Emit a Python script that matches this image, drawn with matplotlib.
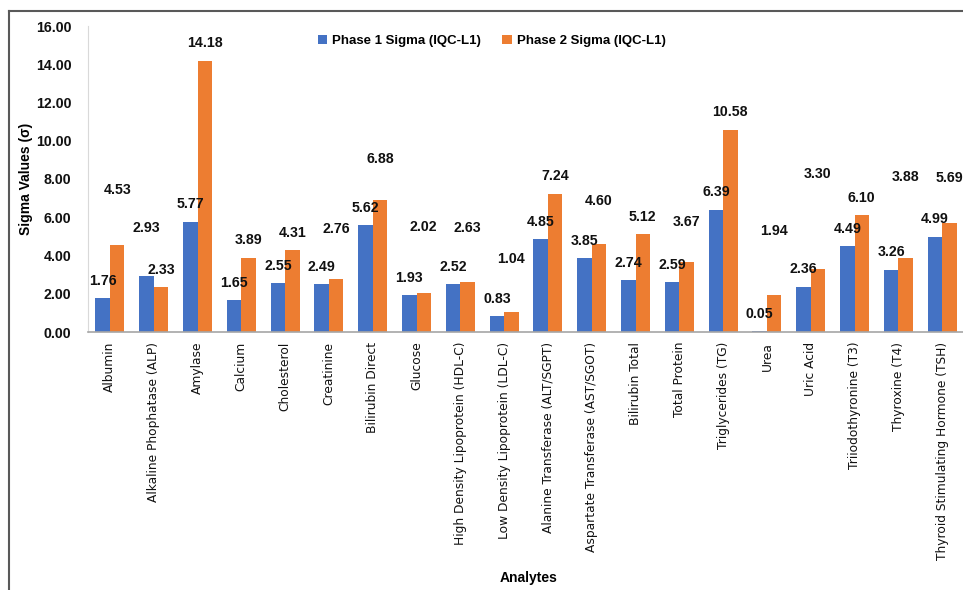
import matplotlib

matplotlib.use("Agg")
import matplotlib.pyplot as plt
import numpy as np
from matplotlib.lines import Line2D

ANALYTES = [
    "Albumin",
    "Alkaline Phophatase (ALP)",
    "Amylase",
    "Calcium",
    "Cholesterol",
    "Creatinine",
    "Bilirubin Direct",
    "Glucose",
    "High Density Lipoprotein (HDL-C)",
    "Low Density Lipoprotein (LDL-C)",
    "Alanine Transferase (ALT/SGPT)",
    "Aspartate Transferase (AST/SGOT)",
    "Bilirubin Total",
    "Total Protein",
    "Triglycerides (TG)",
    "Urea",
    "Uric Acid",
    "Triiodothyronine (T3)",
    "Thyroxine (T4)",
    "Thyroid Stimulating Hormone (TSH)",
]
PHASE1 = [1.76, 2.93, 5.77, 1.65, 2.55, 2.49, 5.62, 1.93, 2.52, 0.83,
          4.85, 3.85, 2.74, 2.59, 6.39, 0.05, 2.36, 4.49, 3.26, 4.99]
PHASE2 = [4.53, 2.33, 14.18, 3.89, 4.31, 2.76, 6.88, 2.02, 2.63, 1.04,
          7.24, 4.60, 5.12, 3.67, 10.58, 1.94, 3.30, 6.10, 3.88, 5.69]
Y_TICKS = [0, 2, 4, 6, 8, 10, 12, 14, 16]

# where the data labels sit in the original (data units), layout only
LABEL_Y1 = [2.67, 5.45, 6.7, 2.55, 3.45, 3.4, 6.5, 2.8, 3.4, 1.73,
            5.77, 4.78, 3.63, 3.5, 7.3, 0.94, 3.3, 5.4, 4.2, 5.9]
LABEL_Y2 = [7.4, 3.25, 15.1, 4.8, 5.2, 5.4, 9.05, 5.5, 5.45, 3.8,
            8.17, 6.87, 6.03, 5.75, 11.5, 5.3, 8.27, 7.0, 8.1, 8.05]

BLUE = "#4472C4"
ORANGE = "#ED7D31"
LABEL_FONT = "Liberation Sans"

fig = plt.figure(figsize=(9.63, 5.9), dpi=100)
ax = fig.add_axes([88 / 963, 1 - 332 / 590, 876 / 963, 306 / 590])

x = np.arange(len(ANALYTES))
w = 0.33
ax.bar(x - w / 2, PHASE1, width=w, color=BLUE, label="Phase 1 Sigma (IQC-L1)")
ax.bar(x + w / 2, PHASE2, width=w, color=ORANGE, label="Phase 2 Sigma (IQC-L1)")

for xi, v, ly in zip(x, PHASE1, LABEL_Y1):
    ax.text(xi - w / 2, ly, f"{v:.2f}", ha="center", va="center", fontsize=10.2,
            fontweight="bold", family=LABEL_FONT, color="#111111")
for xi, v, ly in zip(x, PHASE2, LABEL_Y2):
    ax.text(xi + w / 2, ly, f"{v:.2f}", ha="center", va="center", fontsize=10.2,
            fontweight="bold", family=LABEL_FONT, color="#111111")

ax.set_xlim(-0.5, len(ANALYTES) - 0.5)
ax.set_ylim(0, 16)
ax.set_yticks(Y_TICKS)
ax.set_yticklabels([f"{t:.2f}" for t in Y_TICKS], fontsize=10.2, fontweight="bold",
                   family=LABEL_FONT, color="#111111")
ax.set_xticks(x)
ax.set_xticklabels(ANALYTES, rotation=90, fontsize=8.8, family="DejaVu Sans", color="#111111")
ax.tick_params(axis="both", length=0)
ax.tick_params(axis="y", pad=12)
ax.tick_params(axis="x", pad=7)

for side in ("top", "right"):
    ax.spines[side].set_visible(False)
ax.spines["left"].set_color("#d9d9d9")
ax.spines["bottom"].set_color("#a6a6a6")
ax.spines["bottom"].set_linewidth(1.2)

ax.set_ylabel("Sigma Values (\u03c3)", fontsize=10, fontweight="bold", family=LABEL_FONT)
ax.yaxis.set_label_coords(-0.063, 0.5)
ax.set_xlabel("Analytes", fontsize=10, fontweight="bold", family=LABEL_FONT)
ax.xaxis.set_label_coords(0.503, -0.78)

ax.legend(loc="upper center", bbox_to_anchor=(0.461, 1.01), ncol=2, frameon=False,
          prop={"family": LABEL_FONT, "weight": "bold", "size": 9.5},
          handlelength=0.7, handleheight=0.7, handletextpad=0.4, columnspacing=1.6)

# outer chart border
fig.add_artist(Line2D([8.5 / 963, 8.5 / 963], [0, 1 - 11 / 590], color="#595959", lw=1.5,
                      transform=fig.transFigure))
fig.add_artist(Line2D([8.5 / 963, 1], [1 - 11 / 590, 1 - 11 / 590], color="#595959", lw=1.5,
                      transform=fig.transFigure))

fig.savefig("out.png", dpi=100)
